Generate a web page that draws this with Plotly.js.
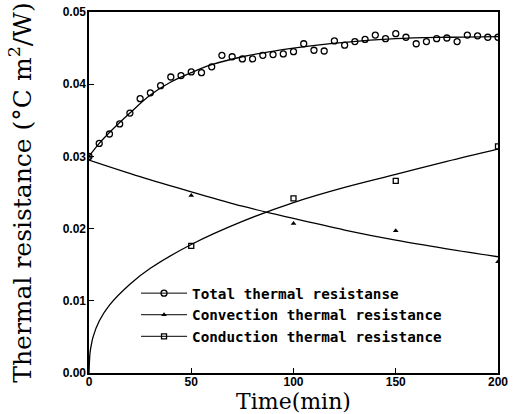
<!DOCTYPE html>
<html>
<head>
<meta charset="utf-8">
<script src="https://cdn.plot.ly/plotly-3.0.1.min.js"></script>
<style>html,body{margin:0;padding:0;background:#fff;}#chart{width:519px;height:414px;}</style>
</head>
<body>
<div id="chart"></div>
<script>
// Measured points
const totalTime = [0,5,10,15,20,25,30,35,40,45,50,55,60,65,70,75,80,85,90,95,100,105,110,115,120,125,130,135,140,145,150,155,160,165,170,175,180,185,190,195,200];
const totalValues = [0.0300,0.0318,0.0331,0.0345,0.0360,0.0380,0.0388,0.0398,0.0410,0.0412,0.0417,0.0416,0.0424,0.0440,0.0438,0.0435,0.0435,0.0440,0.0441,0.0442,0.0445,0.0456,0.0447,0.0446,0.0460,0.0454,0.0459,0.0462,0.0468,0.0463,0.0470,0.0465,0.0456,0.0459,0.0463,0.0464,0.0459,0.0468,0.0467,0.0465,0.0465];
const convTime = [0,50,100,150,200];
const convValues = [0.0300,0.0246,0.0207,0.0197,0.0154];
const condTime = [50,100,150,200];
const condValues = [0.0176,0.0242,0.0266,0.0314];

// Fitted curves
const totalFitTime = [0,5,10,20,30,40,50,60,75,100,125,150,175,200];
const totalFitValues = [0.0300,0.0318,0.0333,0.0360,0.0385,0.0403,0.0416,0.0427,0.0438,0.0450,0.0458,0.0463,0.0465,0.0466];
const convFitTime = [0,25,50,75,100,125,150,175,200];
const convFitValues = [0.0295,0.0272,0.0251,0.0231,0.0214,0.0198,0.0184,0.0172,0.0161];
const condFitTime = [0,0.5,1,2,5,10,20,30,50,75,100,125,150,175,200];
const condFitValues = [0,0.0028,0.0037,0.0050,0.0072,0.0094,0.0123,0.0145,0.0178,0.0210,0.0236,0.0257,0.0275,0.0293,0.0310];

const legendNames = ['Total thermal resistanse','Convection thermal resistance','Conduction thermal resistance'];
const xTicks = [0,50,100,150,200];
const yTicks = [0,0.01,0.02,0.03,0.04,0.05];

const lineStyle = {color:'#000', width:1.3};
const circleMarker = {symbol:'circle-open', size:6, color:'#000', line:{width:1.3, color:'#000'}};
const triMarker = {symbol:'triangle-up', size:5, color:'#000'};
const sqMarker = {symbol:'square-open', size:5, color:'#000', line:{width:1.3, color:'#000'}};

const traces = [
  {x: totalFitTime, y: totalFitValues, mode:'lines', line:Object.assign({shape:'spline'}, lineStyle), showlegend:false, hoverinfo:'skip'},
  {x: convFitTime, y: convFitValues, mode:'lines', line:Object.assign({shape:'spline'}, lineStyle), showlegend:false, hoverinfo:'skip'},
  {x: condFitTime, y: condFitValues, mode:'lines', line:Object.assign({shape:'spline'}, lineStyle), showlegend:false, hoverinfo:'skip'},
  {x: totalTime, y: totalValues, mode:'markers', showlegend:false, marker:circleMarker},
  {x: convTime, y: convValues, mode:'markers', showlegend:false, marker:triMarker},
  {x: condTime, y: condValues, mode:'markers', showlegend:false, marker:sqMarker},
  // legend entries (line with marker, as in the reference key)
  {x:[null], y:[null], mode:'lines+markers', name: legendNames[0], line:{color:'#000', width:1}, marker:circleMarker},
  {x:[null], y:[null], mode:'lines+markers', name: legendNames[1], line:{color:'#000', width:1}, marker:triMarker},
  {x:[null], y:[null], mode:'lines+markers', name: legendNames[2], line:{color:'#000', width:1}, marker:sqMarker}
];

const tickFont = {family:'Liberation Sans, Arial, sans-serif', size:12, color:'#000', weight:'bold'};
const layout = {
  width:519, height:414,
  margin:{l:89, r:21, t:12, b:41},
  paper_bgcolor:'#fff', plot_bgcolor:'#fff',
  showlegend:true,
  legend:{x:0.115, y:0.265, xanchor:'left', yanchor:'top', bgcolor:'rgba(0,0,0,0)',
          font:{family:'DejaVu Sans Mono, monospace', size:14.3, color:'#000', weight:'bold'},
          itemwidth:46, tracegroupgap:0},
  xaxis:{range:[0,200], tickvals:xTicks, ticktext:xTicks.map(String), ticks:'inside', ticklen:5, tickwidth:1.2, tickcolor:'#000',
         showline:true, linecolor:'#000', linewidth:1.6, mirror:true, showgrid:false, zeroline:false,
         tickfont:tickFont, ticklabelstandoff:-3,
         title:{text:'Time(min)', font:{family:'DejaVu Serif, serif', size:22, color:'#000'}, standoff:0}},
  yaxis:{range:[0,0.05], tickvals:yTicks, ticktext:yTicks.map(v=>v.toFixed(2)), ticks:'inside', ticklen:5, tickwidth:1.2, tickcolor:'#000',
         showline:true, linecolor:'#000', linewidth:1.6, mirror:true, showgrid:false, zeroline:false,
         tickfont:tickFont, ticklabelstandoff:-1,
         title:{text:'Thermal resistance (°C m<sup>2</sup>/W)', font:{family:'DejaVu Serif, serif', size:25, color:'#000'}, standoff:24}}
};

Plotly.newPlot('chart', traces, layout, {staticPlot:true, displayModeBar:false});
</script>
</body>
</html>
